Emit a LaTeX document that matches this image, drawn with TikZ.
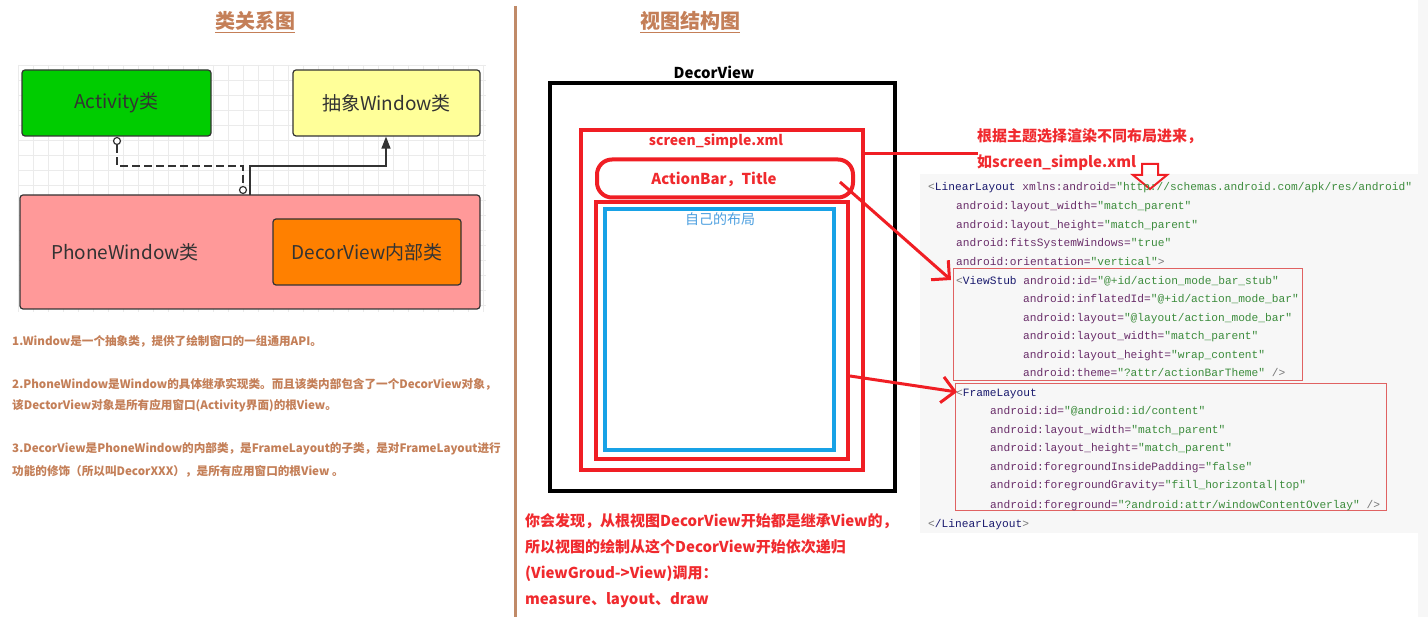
\documentclass[tikz,border=0pt]{standalone}
\usepackage{fontspec}
\setmainfont{Noto Sans CJK SC}
\newfontfamily\codefont{Liberation Mono}
\usetikzlibrary{arrows.meta}
\definecolor{brownc}{HTML}{C47F58}
\definecolor{divc}{HTML}{C08A68}
\definecolor{redc}{HTML}{F01E24}
\definecolor{redt}{HTML}{F02A2E}
\definecolor{bluec}{HTML}{18A2E6}
\definecolor{bluet}{HTML}{4C9FE0}
\definecolor{greenc}{HTML}{00CC00}
\definecolor{yellowc}{HTML}{FFFF99}
\definecolor{pinkc}{HTML}{FF9999}
\definecolor{orangec}{HTML}{FF8000}
\definecolor{darkc}{HTML}{333333}
\definecolor{gridc}{HTML}{EBEBEB}
\definecolor{panelc}{HTML}{F7F7F7}
\definecolor{codetag}{HTML}{1A1A6E}
\definecolor{codeattr}{HTML}{6A2E6A}
\definecolor{codeval}{HTML}{3C8C3C}
\definecolor{codegray}{HTML}{777777}
\definecolor{boxline}{HTML}{E06262}
\newcommand\xtag[1]{\textcolor{codetag}{#1}}
\newcommand\xattr[1]{\textcolor{codeattr}{#1}}
\newcommand\xval[1]{\textcolor{codeval}{#1}}
\newcommand\xlt{\textcolor{codegray}{<}}
\newcommand\xgt{\textcolor{codegray}{>}}
\begin{document}
\begin{tikzpicture}[x=1pt,y=-1pt,
  umlbox/.style={draw=darkc, line width=1.2pt, rounded corners=3pt, text=darkc,
    font=\fontsize{19}{22}\selectfont, inner sep=0pt},
  circ/.style={circle, draw=darkc, line width=1.2pt, fill=white, inner sep=0pt, minimum size=7pt},
  title/.style={text=brownc, font=\bfseries\fontsize{20}{24}\selectfont, inner sep=1pt},
  note/.style={anchor=west, text=brownc, font=\bfseries\fontsize{11.6}{14}\selectfont, inner sep=0pt},
  redtxt/.style={anchor=west, text=redt, font=\bfseries\fontsize{15}{18}\selectfont, inner sep=0pt},
  code/.style={anchor=base west, inner sep=0pt, font=\codefont\fontsize{11.2}{13}\selectfont},
  thick box/.style={line width=4pt},
  redarrow/.style={draw=redc, line width=3pt, -{Straight Barb[length=13pt,width=26pt,line width=3pt]}}
]
\useasboundingbox (0,0) rectangle (1428,617);
\fill[white] (0,0) rectangle (1428,617);
\fill[panelc] (1418,0) rectangle (1428,617);
\fill[panelc] (920,174) rectangle (1418,533);

% ---------- left: class diagram ----------
\node[title] (t1) at (255,22) {\underline{类关系图}};
\foreach \gx in {18,33,...,486} \draw[gridc, line width=0.6pt] (\gx,65) -- (\gx,312);
\foreach \gy in {65,80,...,312} \draw[gridc, line width=0.6pt] (18,\gy) -- (486,\gy);

\node[umlbox, fill=greenc, minimum width=189pt, minimum height=66pt] (act) at (116.5,103) {Activity类};
\node[umlbox, fill=yellowc, minimum width=187pt, minimum height=66pt] (win) at (386.5,103) {抽象Window类};
\node[umlbox, fill=pinkc, minimum width=460pt, minimum height=114pt] (pw) at (250,252) {};
\node[text=darkc, font=\fontsize{19}{22}\selectfont, inner sep=0pt] (pwl) at (125,252) {PhoneWindow类};
\node[umlbox, fill=orangec, minimum width=188pt, minimum height=66pt] (dv) at (367,252) {DecorView内部类};

\node[circ] (c1) at (117,141) {};
\node[circ] (c2) at (243,190) {};
\coordinate (d1) at (117,166);
\coordinate (d2) at (243,166);
\draw[darkc, line width=1.4pt, dash pattern=on 8pt off 4pt] (c1.south) -- (d1) -- (d2) -- (c2.north);
\coordinate (s0) at (250,195);
\coordinate (s1) at (250,166);
\coordinate (s2) at (386,166);
\draw[darkc, line width=1.4pt, -{Triangle[length=12pt,width=9pt]}] (s0) -- (s1) -- (s2) -- (win.south -| s2);

\node[note] (n1) at (12,341) {1.Window是一个抽象类，提供了绘制窗口的一组通用API。};
\node[note] (n2) at (12,384) {2.PhoneWindow是Window的具体继承实现类。而且该类内部包含了一个DecorView对象，};
\node[note] (n3) at (12,406) {该DectorView对象是所有应用窗口(Activity界面)的根View。};
\node[note] (n4) at (12,449) {3.DecorView是PhoneWindow的内部类，是FrameLayout的子类，是对FrameLayout进行};
\node[note] (n5) at (12,471) {功能的修饰（所以叫DecorXXX），是所有应用窗口的根View 。};

% divider
\draw[divc, line width=3pt] (515,6) -- (515,617);

% ---------- right: view structure ----------
\node[title] (t2) at (690,22) {\underline{视图结构图}};
\node[font=\bfseries\fontsize{15}{18}\selectfont, inner sep=0pt] (dvl) at (714,72) {DecorView};
\draw[black, thick box] (550,83) rectangle (895,491);
\node[draw=redc, thick box, minimum width=282pt, minimum height=340pt, inner sep=0pt] (ss) at (722,300) {};
\node[text=redt, font=\bfseries\fontsize{14}{17}\selectfont, inner sep=0pt] (ssl) at (716,141) {screen\_simple.xml};
\node[draw=redc, thick box, rounded corners=15pt, minimum width=256pt, minimum height=38pt, inner sep=0pt] (ab) at (725,178.5) {};
\node[text=redt, font=\bfseries\fontsize{15}{18}\selectfont, inner sep=0pt] (abl) at (714,179) {ActionBar，Title};
\node[draw=redc, thick box, minimum width=252pt, minimum height=257pt, inner sep=0pt] (ct) at (722,330.5) {};
\node[draw=bluec, thick box, minimum width=229pt, minimum height=241pt, inner sep=0pt] (own) at (719.5,329.5) {};
\node[text=bluet, font=\fontsize{14}{17}\selectfont, inner sep=0pt] (ownl) at (720,219) {自己的布局};

\node[redtxt] (r1) at (525,521) {你会发现，从根视图DecorView开始都是继承View的，};
\node[redtxt] (r2) at (525,547) {所以视图的绘制从这个DecorView开始依次递归};
\node[redtxt] (r3) at (525,574) {(ViewGroud->View)调用：};
\node[redtxt] (r4) at (525,600) {measure、layout、draw};

\node[redtxt] (r5) at (977,136) {根据主题选择渲染不同布局进来，};
\node[redtxt] (r6) at (977,163) {如screen\_simple.xml};

% connector from screen_simple box
\coordinate (lnend) at (978,154);
\draw[redc, line width=3pt] (ss.east |- lnend) -- (lnend);
% hollow down arrow
\draw[redc, line width=2pt, line join=miter] (1142,164) -- (1158,164) -- (1158,175) -- (1167,175) -- (1150,189) -- (1133,175) -- (1142,175) -- cycle;

% code panel
\node[draw=boxline, line width=1pt, minimum width=349pt, minimum height=112pt, inner sep=0pt] (vs) at (1127.5,325) {};
\node[draw=boxline, line width=1pt, minimum width=431pt, minimum height=127pt, inner sep=0pt] (fl) at (1170.5,447.5) {};

\node[code] (c01) at (928,191) {\xlt\xtag{LinearLayout} \xattr{xmlns:android=}\xval{"http://schemas.android.com/apk/res/android"}};
\node[code] (c02) at (956,210) {\xattr{android:layout\_width=}\xval{"match\_parent"}};
\node[code] (c03) at (956,229) {\xattr{android:layout\_height=}\xval{"match\_parent"}};
\node[code] (c04) at (956,247) {\xattr{android:fitsSystemWindows=}\xval{"true"}};
\node[code] (c05) at (956,266) {\xattr{android:orientation=}\xval{"vertical"}\xgt};
\node[code] (c06) at (956,285) {\xlt\xtag{ViewStub} \xattr{android:id=}\xval{"@+id/action\_mode\_bar\_stub"}};
\node[code] (c07) at (1023,303) {\xattr{android:inflatedId=}\xval{"@+id/action\_mode\_bar"}};
\node[code] (c08) at (1023,322) {\xattr{android:layout=}\xval{"@layout/action\_mode\_bar"}};
\node[code] (c09) at (1023,340) {\xattr{android:layout\_width=}\xval{"match\_parent"}};
\node[code] (c10) at (1023,359) {\xattr{android:layout\_height=}\xval{"wrap\_content"}};
\node[code] (c11) at (1023,377) {\xattr{android:theme=}\xval{"?attr/actionBarTheme"} \textcolor{codegray}{/>}};
\node[code] (c12) at (956,397) {\xlt\xtag{FrameLayout}};
\node[code] (c13) at (990,415) {\xattr{android:id=}\xval{"@android:id/content"}};
\node[code] (c14) at (990,434) {\xattr{android:layout\_width=}\xval{"match\_parent"}};
\node[code] (c15) at (990,452) {\xattr{android:layout\_height=}\xval{"match\_parent"}};
\node[code] (c16) at (990,471) {\xattr{android:foregroundInsidePadding=}\xval{"false"}};
\node[code] (c17) at (990,489) {\xattr{android:foregroundGravity=}\xval{"fill\_horizontal|top"}};
\node[code] (c18) at (990,508) {\xattr{android:foreground=}\xval{"?android:attr/windowContentOverlay"} \textcolor{codegray}{/>}};
\node[code] (c19) at (928,527) {\xlt\textcolor{codetag}{/LinearLayout}\xgt};

% red arrows to code
\coordinate (a1s) at (840,182);
\coordinate (a1e) at (951,280);
\draw[redarrow] (a1s) -- (a1e);
\coordinate (a2s) at (ct.east |- 0,376);
\coordinate (a2e) at (957,392);
\draw[redarrow] (a2s) -- (a2e);
\end{tikzpicture}
\end{document}
